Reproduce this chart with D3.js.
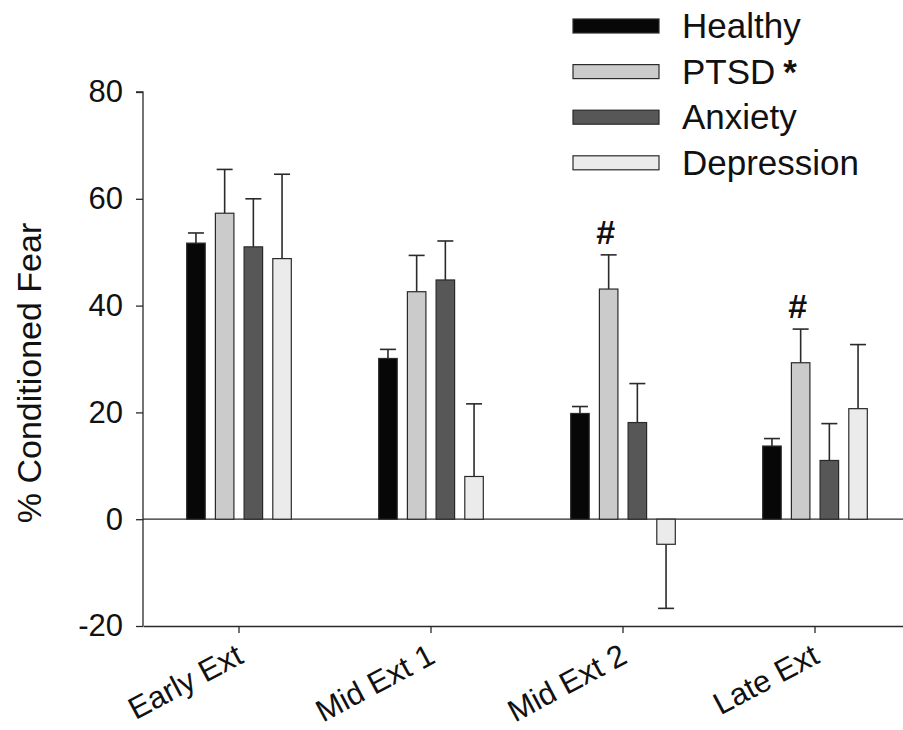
<!DOCTYPE html>
<html>
<head>
<meta charset="utf-8">
<script src="https://cdn.jsdelivr.net/npm/d3@7"></script>
<style>
  html, body { margin: 0; padding: 0; background: #fff; }
  svg { display: block; font-family: "Liberation Sans", Arial, sans-serif; }
</style>
</head>
<body>
<svg id="chart" width="903" height="730"></svg>
<script>
// ---- data ----
const categories = ["Early Ext", "Mid Ext 1", "Mid Ext 2", "Late Ext"];
const seriesNames = ["Healthy", "PTSD", "Anxiety", "Depression"];
const legendLabels = ["Healthy", "PTSD", "Anxiety", "Depression"];
const healthy    = [51.7, 30.1, 19.8, 13.7];
const ptsd       = [57.3, 42.6, 43.1, 29.3];
const anxiety    = [51.0, 44.8, 18.1, 11.0];
const depression = [48.8, 8.0, -4.7, 20.7];
const healthyErr    = [1.9, 1.7, 1.3, 1.4];
const ptsdErr       = [8.2, 6.8, 6.4, 6.3];
const anxietyErr    = [9.0, 7.3, 7.3, 6.9];
const depressionErr = [15.8, 13.6, 12.0, 12.0];
const yTicks = [-20, 0, 20, 40, 60, 80];
const yTickLabels = ["-20", "0", "20", "40", "60", "80"];
const significance = [null, null, "#", "#"]; // marks above PTSD bars

// ---- styling ----
const colors = { Healthy: "#070707", PTSD: "#cbcbcb", Anxiety: "#575757", Depression: "#ebebeb" };

const values = { Healthy: healthy, PTSD: ptsd, Anxiety: anxiety, Depression: depression };
const errors = { Healthy: healthyErr, PTSD: ptsdErr, Anxiety: anxietyErr, Depression: depressionErr };

const svg = d3.select("#chart");

const y = d3.scaleLinear().domain([-20, 80]).range([626, 92]);
const x0 = d3.scaleBand().domain(categories).range([143, 911]).paddingInner(0).paddingOuter(0);
const x1 = d3.scaleBand().domain(seriesNames).range([-57.4, 57.4]).paddingInner(0.355).paddingOuter(0.1775);

const rows = [];
categories.forEach((c, i) => {
  seriesNames.forEach(s => {
    rows.push({ cat: c, i: i, s: s, v: values[s][i], e: errors[s][i] });
  });
});

const axisColor = "#2a2a2a";

// zero line
svg.append("line")
  .attr("x1", 143).attr("x2", 911)
  .attr("y1", y(0)).attr("y2", y(0))
  .attr("stroke", axisColor).attr("stroke-width", 1.3);

// error bars (drawn before bars so the bar covers the stem)
const eb = svg.append("g").attr("stroke", "#2a2a2a").attr("stroke-width", 1.6).attr("fill", "none");
rows.forEach(d => {
  const cx = x0(d.cat) + x0.bandwidth() / 2 + x1(d.s) + x1.bandwidth() / 2;
  const end = d.v >= 0 ? d.v + d.e : d.v - d.e;
  eb.append("line").attr("x1", cx).attr("x2", cx).attr("y1", y(d.v)).attr("y2", y(end));
  eb.append("line").attr("x1", cx - 8).attr("x2", cx + 8).attr("y1", y(end)).attr("y2", y(end));
});

// bars
svg.append("g").selectAll("rect").data(rows).join("rect")
  .attr("x", d => x0(d.cat) + x0.bandwidth() / 2 + x1(d.s))
  .attr("width", x1.bandwidth())
  .attr("y", d => y(Math.max(0, d.v)))
  .attr("height", d => Math.abs(y(d.v) - y(0)))
  .attr("fill", d => colors[d.s])
  .attr("stroke", "#2a2a2a").attr("stroke-width", 1.2);

// significance marks
categories.forEach((c, i) => {
  if (!significance[i]) return;
  const cx = x0(c) + x0.bandwidth() / 2 + x1("PTSD") + x1.bandwidth() / 2 - 3;
  svg.append("text")
    .attr("x", cx).attr("y", y(ptsd[i] + ptsdErr[i]) - 11)
    .attr("text-anchor", "middle")
    .attr("font-size", 34).attr("font-weight", "bold").attr("fill", "#111")
    .text(significance[i]);
});

// y axis
const yAxis = d3.axisLeft(y).tickValues(yTicks).tickSize(7).tickPadding(13)
  .tickFormat((d, i) => yTickLabels[i]);
const gy = svg.append("g").attr("transform", "translate(143,0)").call(yAxis);
gy.select(".domain").attr("stroke", axisColor).attr("stroke-width", 1.3).attr("d", `M-7,${y(80)}H0V${y(-20)}`);
gy.selectAll(".tick line").attr("stroke", axisColor).attr("stroke-width", 1.3);
gy.selectAll(".tick text").attr("font-size", 31).attr("fill", "#111")
  .attr("font-family", "'Liberation Sans', Arial, sans-serif");

// x axis
const xAxis = d3.axisBottom(x0).tickSize(7).tickSizeOuter(0);
const gx = svg.append("g").attr("transform", `translate(0,${y(-20)})`).call(xAxis);
gx.select(".domain").attr("stroke", axisColor).attr("stroke-width", 1.3);
gx.selectAll(".tick line").attr("stroke", axisColor).attr("stroke-width", 1.3);
gx.selectAll(".tick text")
  .attr("font-size", 31).attr("fill", "#111")
  .attr("font-family", "'Liberation Sans', Arial, sans-serif")
  .attr("text-anchor", "end")
  .attr("dy", null)
  .attr("y", null)
  .attr("transform", "translate(6,36) rotate(-28)");

// y title
svg.append("text")
  .attr("transform", `translate(41,${(y(80) + y(-20)) / 2 + 14}) rotate(-90)`)
  .attr("text-anchor", "middle")
  .attr("font-size", 34).attr("fill", "#111")
  .text("% Conditioned Fear");

// legend
const lg = svg.append("g");
seriesNames.forEach((s, i) => {
  const cy = 26 + i * 45.6;
  lg.append("rect").attr("x", 573).attr("y", cy - 7).attr("width", 86).attr("height", 14)
    .attr("fill", colors[s]).attr("stroke", "#2a2a2a").attr("stroke-width", 1.2);
  const t = lg.append("text").attr("x", 682).attr("y", cy + 12)
    .attr("font-size", 35).attr("fill", "#111").text(legendLabels[i]);
  if (s === "PTSD") {
    t.append("tspan").attr("dx", 8).attr("font-weight", "bold").attr("font-size", 35).text("*");
  }
});
</script>
</body>
</html>
